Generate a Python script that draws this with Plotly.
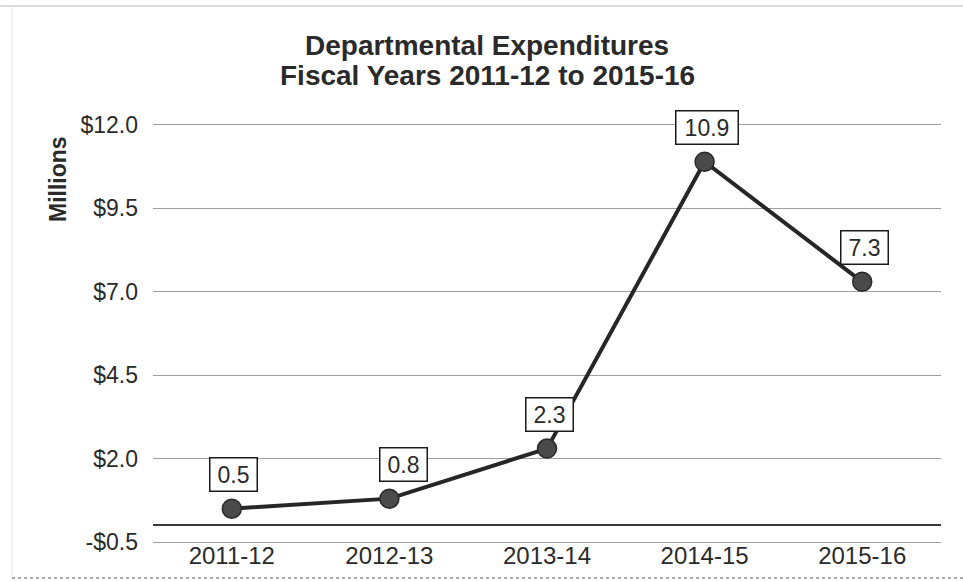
import plotly.graph_objects as go

# Fiscal years and departmental expenditures (millions of dollars)
fiscal_years = ["2011-12", "2012-13", "2013-14", "2014-15", "2015-16"]
expenditures = [0.5, 0.8, 2.3, 10.9, 7.3]

# Value-axis ticks
y_tick_values = [-0.5, 2.0, 4.5, 7.0, 9.5, 12.0]
y_tick_labels = ["-$0.5", "$2.0", "$4.5", "$7.0", "$9.5", "$12.0"]

title_lines = ["Departmental Expenditures", "Fiscal Years 2011-12 to 2015-16"]

FONT = "Liberation Sans, Arial, sans-serif"
TEXT_COLOR = "#2a2a2a"
GRID_COLOR = "#a0a0a0"

# Plot-area edges in pixels, used to place the outer decorations
L, R, T, B = 153, 941, 125, 542


def px_x(x):
    return (x - L) / (R - L)


def px_y(y):
    return (B - y) / (B - T)


fig = go.Figure()

fig.add_trace(go.Scatter(
    x=fiscal_years,
    y=expenditures,
    mode="lines+markers",
    line=dict(color="#262626", width=4),
    marker=dict(size=19, color="#4a4a4a", line=dict(color="#2a2a2a", width=1.5)),
    hoverinfo="x+y",
    showlegend=False,
))

# Boxed value labels above each point
label_xshift = {"2012-13": 14}
for fy, val in zip(fiscal_years, expenditures):
    txt = f"{val:.1f}"
    fig.add_annotation(
        x=fy, y=val, xref="x", yref="y",
        text=txt, showarrow=False,
        yshift=34, xshift=label_xshift.get(fy, 2),
        width=15 * len(txt) - 5,
        font=dict(family=FONT, size=23, color=TEXT_COLOR),
        bgcolor="white", bordercolor="#1a1a1a", borderwidth=1.5, borderpad=3,
    )

# Two-line chart title
for line_text, line_y in zip(title_lines, [45, 75]):
    fig.add_annotation(
        x=px_x(487), y=px_y(line_y), xref="x domain", yref="y domain",
        xanchor="center", yanchor="middle",
        text=f"<b>{line_text}</b>", showarrow=False,
        font=dict(family=FONT, size=28, color=TEXT_COLOR),
    )

# Axis title placed near the top of the value axis
fig.add_annotation(
    x=px_x(58), y=px_y(179), xref="x domain", yref="y domain",
    xanchor="center", yanchor="middle",
    text="<b>Millions</b>", showarrow=False, textangle=-90,
    font=dict(family=FONT, size=23, color=TEXT_COLOR),
)

# Outer chart border
fig.add_shape(type="line", xref="paper", yref="paper",
              x0=px_x(0), x1=px_x(963), y0=px_y(6), y1=px_y(6),
              line=dict(color="#b5b5b5", width=1))
fig.add_shape(type="line", xref="paper", yref="paper",
              x0=px_x(12), x1=px_x(12), y0=px_y(6), y1=px_y(578),
              line=dict(color="#e6e6e6", width=1))
fig.add_shape(type="line", xref="paper", yref="paper",
              x0=px_x(12), x1=px_x(963), y0=px_y(578), y1=px_y(578),
              line=dict(color="#555555", width=1, dash="dot"))

fig.update_layout(
    width=963, height=581,
    margin=dict(l=L, r=963 - R, t=T, b=581 - B),
    paper_bgcolor="white", plot_bgcolor="white",
    xaxis=dict(
        type="category", automargin=False,
        showgrid=False, zeroline=False, ticks="",
        showline=True, mirror=True, linecolor=GRID_COLOR, linewidth=1,
        ticklabelstandoff=-8,
        tickfont=dict(family=FONT, size=24, color=TEXT_COLOR),
        range=[-0.5, len(fiscal_years) - 0.5],
    ),
    yaxis=dict(
        range=[-0.5, 12.0], automargin=False,
        tickvals=y_tick_values, ticktext=y_tick_labels,
        showgrid=True, gridcolor=GRID_COLOR, gridwidth=1,
        zeroline=True, zerolinecolor="#3a3a3a", zerolinewidth=2,
        showline=False, ticks="",
        ticklabelstandoff=14,
        tickfont=dict(family=FONT, size=23, color=TEXT_COLOR),
    ),
)

fig.write_html("out.html")
